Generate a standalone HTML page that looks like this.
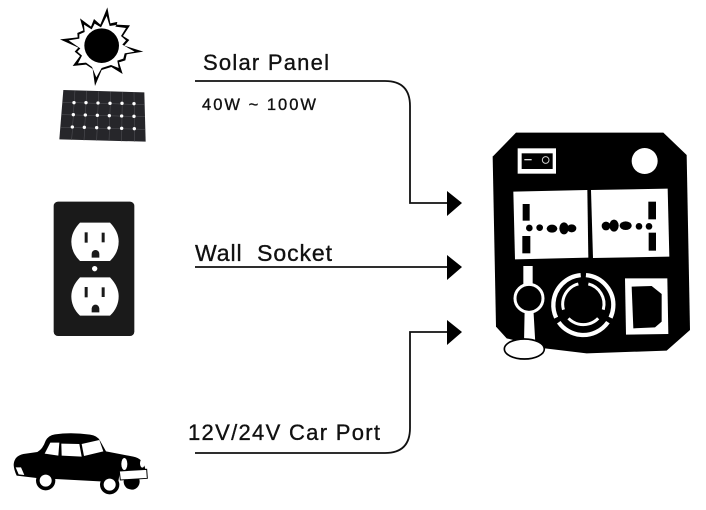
<!DOCTYPE html>
<html><head><meta charset="utf-8"><style>
html,body{margin:0;padding:0;background:#fff;width:706px;height:510px;overflow:hidden}
svg{display:block}
text{font-family:"Liberation Sans",Arial,sans-serif;fill:#111;stroke:#111;stroke-width:.35}
</style></head><body>
<svg width="706" height="510" viewBox="0 0 706 510" xmlns="http://www.w3.org/2000/svg">
<!-- sun + panel -->
<g transform="scale(.33333)">
<polygon fill="#000" points="322,22 331,70 350,66 352,66 350,74 390,76 369,108 388,120 373,137 430,155 380,163 376,181 357,187 368,222 334,201 305,210 285,258 278,207 258,194 218,198 240,168 224,155 235,143 180,118 233,112 232,99 250,91 240,55 273,80 282,57 301,74"/>
<polygon fill="#fff" points="320,48 329,78 349,75 346,80 378,84 363,108 378,121 367,134 404,155 374,160 370,176 352,182 356,204 333,195 305,204 289,232 276,201 258,188 234,190 246,167 232,155 241,145 206,121 238,116 238,103 254,96 252,74 275,88 284,71 303,82"/>
<circle cx="305" cy="137" r="52" fill="#000"/>
<polygon fill="#26262a" points="190,270 433,277 437,425 178,418"/>
<g stroke="#55555a" stroke-width="1.500" fill="none">
<path d="M225,272 L215,420 M260,273 L252,421 M296,274 L290,422 M332,275 L327,423 M367,276 L365,424 M402,277 L404,425"/>
<path d="M188,307 L434,314 M184,344 L435,350 M181,382 L436,388"/>
</g>
<g fill="#fff">
<circle cx="222" cy="308" r="5"/><circle cx="258" cy="308" r="5"/><circle cx="294" cy="309" r="5"/><circle cx="330" cy="310" r="5"/><circle cx="366" cy="310" r="5"/><circle cx="402" cy="311" r="5"/>
<circle cx="220" cy="344" r="5"/><circle cx="256" cy="345" r="5"/><circle cx="292" cy="346" r="5"/><circle cx="328" cy="347" r="5"/><circle cx="365" cy="348" r="5"/><circle cx="402" cy="349" r="5"/>
<circle cx="217" cy="381" r="5"/><circle cx="253" cy="382" r="5"/><circle cx="290" cy="383" r="5"/><circle cx="327" cy="384" r="5"/><circle cx="365" cy="385" r="5"/><circle cx="403" cy="386" r="5"/>
</g>
</g>
<!-- outlet -->
<g transform="translate(30,190) scale(.33333)">
<rect x="71" y="35" width="242" height="403" rx="13" fill="#1a1a1a"/>
<g><path fill="#fff" d="M150,98 H240 Q266,125 266,155 Q266,188 240,213 H150 Q124,188 124,155 Q124,125 150,98Z"/>
<rect x="164" y="127" width="9" height="31" fill="#1a1a1a"/><rect x="215" y="128" width="9" height="29" fill="#1a1a1a"/>
<path fill="#1a1a1a" d="M185,203 V192 A11.500,12 0 0 1 208,192 V203Z"/></g>
<g transform="translate(0,164)"><path fill="#fff" d="M150,98 H240 Q266,125 266,155 Q266,188 240,213 H150 Q124,188 124,155 Q124,125 150,98Z"/>
<rect x="164" y="127" width="9" height="31" fill="#1a1a1a"/><rect x="215" y="128" width="9" height="29" fill="#1a1a1a"/>
<path fill="#1a1a1a" d="M185,203 V192 A11.500,12 0 0 1 208,192 V203Z"/></g>
<circle cx="194" cy="236" r="8" fill="#fff"/>
</g>
<!-- car -->
<g transform="translate(0,420) scale(.33333)">
<circle cx="395" cy="185" r="24" fill="#000"/>
<path fill="#000" d="M41,135 Q42,108 70,102 L112,96 Q128,88 137,62 Q145,46 165,43 Q215,36 270,44 Q292,47 300,62 L318,94 L400,110 Q430,116 436,148 L360,155 L355,184 L300,184 L110,174 L50,167 Q42,150 41,135Z"/>
<circle cx="137" cy="182" r="29" fill="#000"/>
<circle cx="137" cy="182" r="18" fill="#fff"/>
<circle cx="329" cy="194" r="29" fill="#000"/>
<circle cx="329" cy="194" r="18" fill="#fff"/>
<g fill="#fff">
<polygon points="134,101 151,68 178,68 175,107"/>
<polygon points="184,71 238,72 245,110 185,107"/>
<polygon points="245,72 298,60 310,94 252,108"/>
<ellipse cx="373" cy="132" rx="9" ry="18"/>
<ellipse cx="427" cy="130" rx="7" ry="13"/>
<polygon points="47,142 63,142 73,165 56,163"/>
<polygon points="358,153 440,148 442,175 361,180" stroke="#000" stroke-width="3"/>
</g>
</g>
<!-- connectors -->
<g fill="none" stroke="#111" stroke-width="1.800">
<path d="M195,81 H385 Q410,81 410,106 V203 H448"/>
<path d="M195,267 H448"/>
<path d="M195,453 H385 Q410,453 410,428 V332 H448"/>
</g>
<g fill="#000">
<polygon points="447,191 462,203 447,216"/>
<polygon points="447,255 462,267 447,280"/>
<polygon points="447,320 462,332 447,345"/>
</g>
<text x="203" y="70" font-size="22" textLength="126" lengthAdjust="spacing">Solar Panel</text>
<text x="202" y="110" font-size="16.500" textLength="114" lengthAdjust="spacing">40W ~ 100W</text>
<text x="195" y="261" font-size="23" textLength="137" lengthAdjust="spacing" xml:space="preserve">Wall  Socket</text>
<text x="188" y="440" font-size="22" textLength="192" lengthAdjust="spacing">12V/24V Car Port</text>
<!-- device -->
<g transform="translate(480,130) scale(.33333)">
<polygon fill="#000" points="108,8 550,8 620,75 630,600 560,662 320,670 195,655 80,625 48,590 38,80"/>
<rect x="113" y="55" width="115" height="76" fill="#fff"/>
<rect x="125" y="70" width="93" height="47" fill="#000"/>
<rect x="133" y="87" width="22" height="4" fill="#ddd"/>
<circle cx="197" cy="90" r="10" fill="none" stroke="#ccc" stroke-width="3"/>
<circle cx="494" cy="93" r="39" fill="#fff"/>
<polygon fill="#fff" points="100,185 322,180 325,383 105,388"/>
<polygon fill="#fff" points="333,180 563,176 568,380 339,384"/>
<g fill="#000">
<rect x="128" y="222" width="21" height="50"/><rect x="127" y="318" width="24" height="52"/>
<circle cx="148" cy="294" r="10"/><circle cx="179" cy="293" r="10"/>
<ellipse cx="216" cy="296" rx="16" ry="12"/><ellipse cx="252" cy="295" rx="14" ry="18"/><ellipse cx="275" cy="295" rx="14" ry="12"/>
<rect x="505" y="215" width="23" height="53"/><rect x="506" y="308" width="22" height="54"/>
<circle cx="507" cy="289" r="10"/><circle cx="477" cy="289" r="10"/>
<ellipse cx="437" cy="287" rx="18" ry="13"/><ellipse cx="402" cy="287" rx="14" ry="18"/><circle cx="378" cy="288" r="13"/>
</g>
<path fill="#fff" d="M130,408 H158 V470 H130Z M134,535 H160 L166,640 H132Z"/>
<circle cx="147" cy="505" r="42" fill="#000" stroke="#fff" stroke-width="9"/>
<ellipse cx="133" cy="657" rx="60" ry="30" fill="#fff" stroke="#000" stroke-width="5"/>
<g fill="none" stroke="#fff">
<circle cx="310" cy="525" r="90" stroke-width="13" pathLength="360" stroke-dasharray="110 10" transform="rotate(-85 310 525)"/>
<circle cx="310" cy="522" r="62" stroke-width="9" pathLength="360" stroke-dasharray="92 28" transform="rotate(-76 310 522)"/>
</g>
<polygon fill="#fff" points="435,445 562,445 565,612 438,614"/>
<polygon fill="#000" points="455,470 515,468 545,492 545,575 525,592 460,595"/>
</g>
</svg>
</body></html>
